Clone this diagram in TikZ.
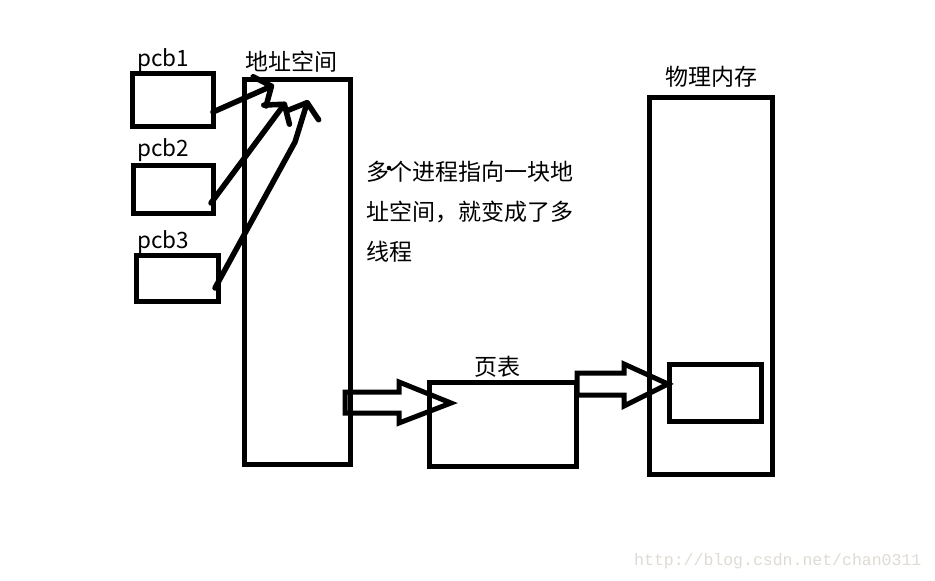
\documentclass[tikz,border=0pt]{standalone}
\usepackage{fontspec}
\setmainfont{Noto Sans CJK SC}
\newfontfamily\wmfont{Liberation Mono}
\usetikzlibrary{arrows.meta}
\definecolor{wm}{RGB}{222,218,212}
\tikzset{
  box/.style={draw, line width=5pt, inner sep=0pt, minimum width=#1},
  lbl/.style={font=\fontsize{22.5}{22.5}\selectfont, inner sep=0pt},
  cjk/.style={font=\fontsize{23}{23}\selectfont, inner sep=0pt},
  thinarrow/.style={line width=5.5pt, line cap=round, line join=round, -{Straight Barb[length=13pt, width=32pt, line cap=round, line join=round]}},
  blockarrow/.style={line width=5pt, line join=miter},
}
\begin{document}
\begin{tikzpicture}[x=1pt, y=-1pt]
\useasboundingbox (0,0) rectangle (935,581);
% boxes
\node[box=81pt, minimum height=53pt] (pcb1) at (173,99.5) {};
\node[box=80pt, minimum height=48pt] (pcb2) at (173.5,189.5) {};
\node[box=82pt, minimum height=46pt] (pcb3) at (177.5,278.5) {};
\node[box=106pt, minimum height=385pt] (addr) at (297.5,272) {};
\node[box=147pt, minimum height=84pt] (pt) at (503,424.5) {};
\node[box=123pt, minimum height=377pt] (mem) at (711,286) {};
\node[box=92pt, minimum height=57pt] (inner) at (715.5,393) {};
% labels
\node[lbl] (l1) at (163,60) {pcb1};
\node[lbl] (l2) at (163,150) {pcb2};
\node[lbl] (l3) at (163,242) {pcb3};
\node[cjk] (laddr) at (291,62) {地址空间};
\node[cjk] (lpt) at (497,367) {页表};
\node[cjk] (lmem) at (711,77) {物理内存};
\node[cjk, anchor=west] (t1) at (366,172) {多个进程指向一块地};
\node[cjk, anchor=west] (t2) at (366,212) {址空间，就变成了多};
\node[cjk, anchor=west] (t3) at (366,252) {线程};
\fill (389,168) circle (2.3pt);
% thin arrows
\coordinate (s1) at (213,112);
\coordinate (e1) at (274,85);
\coordinate (s2) at (211,203);
\coordinate (e2) at (286,102);
\coordinate (s3) at (215,288);
\coordinate (m3) at (295,142);
\coordinate (e3) at (308,100);
\draw[thinarrow] (s1) -- (e1);
\draw[thinarrow] (s2) -- (e2);
\draw[thinarrow] (s3) -- (m3) -- (e3);
% block arrows
\draw[blockarrow] (345,392) -- (399,392) -- (399,382) -- (451,403) -- (399,423) -- (399,413) -- (345,413) -- cycle;
\draw[blockarrow] (577,373) -- (624,373) -- (624,364) -- (668,384) -- (624,406) -- (624,395) -- (577,395) -- cycle;
% watermark
\node[font=\wmfont\fontsize{16.5}{16.5}\selectfont, text=wm, anchor=west, inner sep=0pt] (wmk) at (634,561) {http://blog.csdn.net/chan0311};
\end{tikzpicture}
\end{document}
